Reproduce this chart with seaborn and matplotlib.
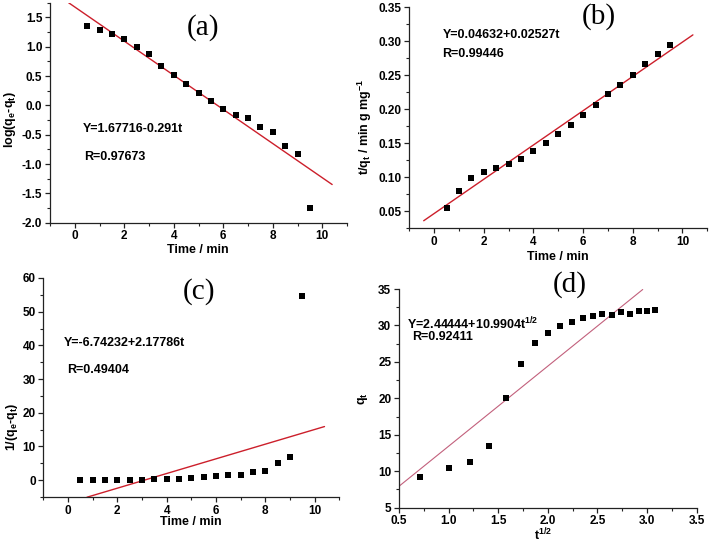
import numpy as np
import pandas as pd
import matplotlib
matplotlib.use("Agg")
import matplotlib.pyplot as plt
from matplotlib.ticker import MultipleLocator
import seaborn as sns

# ---------------- data ----------------
time_min = [0.5, 1.0, 1.5, 2.0, 2.5, 3.0, 3.5, 4.0, 4.5, 5.0,
            5.5, 6.0, 6.5, 7.0, 7.5, 8.0, 8.5, 9.0, 9.5]

log_qe_qt = [1.36, 1.28, 1.22, 1.13, 1.00, 0.87, 0.665, 0.51, 0.36, 0.216,
             0.08, -0.068, -0.16, -0.21, -0.364, -0.45, -0.70, -0.835, -1.744]

t_over_qt = [0.054, 0.080, 0.098, 0.108, 0.113, 0.120, 0.127, 0.138, 0.150, 0.164,
             0.177, 0.191, 0.206, 0.222, 0.236, 0.251, 0.266, 0.281, 0.295]

inv_qe_qt = [0.05, 0.05, 0.06, 0.07, 0.10, 0.13, 0.2, 0.3, 0.44, 0.6,
             0.83, 1.17, 1.45, 1.62, 2.3, 2.8, 5.0, 6.84, 54.8]

sqrt_t = [0.71, 1.00, 1.22, 1.41, 1.58, 1.73, 1.87, 2.00, 2.12, 2.24,
          2.35, 2.45, 2.55, 2.65, 2.74, 2.83, 2.92, 3.00, 3.08]

q_t = [9.2, 10.47, 11.25, 13.48, 20.05, 24.74, 27.53, 28.94, 29.94, 30.54,
       30.99, 31.36, 31.54, 31.5, 31.8, 31.58, 31.99, 32.03, 32.18]

# fitted lines: intercept, slope, x-range
fit_a = (1.67716, -0.291, [-0.25, 10.4])
fit_b = (0.04632, 0.02527, [-0.42, 10.42])
fit_c = (-6.74232, 2.17786, [0.77, 10.4])
fit_d = (2.44444, 10.9904, [0.5, 2.956])

eq_a = ["Y=1.67716-0.291t", "R=0.97673"]
eq_b = ["Y=0.04632+0.02527t", "R=0.99446"]
eq_c = ["Y=-6.74232+2.17786t", "R=0.49404"]
eq_d = ["Y=2.44444+10.9904t$^{1/2}$", "R=0.92411"]

# ---------------- style ----------------
sns.set_style("ticks")
plt.rcParams["font.family"] = ["Liberation Sans", "DejaVu Sans"]
plt.rcParams["font.weight"] = "bold"
plt.rcParams["text.color"] = "black"
plt.rcParams["axes.labelcolor"] = "black"
plt.rcParams["xtick.color"] = "black"
plt.rcParams["ytick.color"] = "black"
plt.rcParams["xtick.labelcolor"] = "black"
plt.rcParams["ytick.labelcolor"] = "black"
plt.rcParams["mathtext.fontset"] = "custom"
plt.rcParams["mathtext.rm"] = "Liberation Sans:bold"
plt.rcParams["mathtext.bf"] = "Liberation Sans:bold"
plt.rcParams["mathtext.it"] = "Liberation Sans:bold"
plt.rcParams["mathtext.default"] = "bf"

fig = plt.figure(figsize=(7.09, 5.5), dpi=100)

W, H = 709.0, 550.0
def rect(left, top, right, bottom):
    return [left / W, (H - bottom) / H, (right - left) / W, (bottom - top) / H]

ax_a = fig.add_axes(rect(50, 2.7, 347, 222.7))
ax_b = fig.add_axes(rect(409.3, 7.5, 707.3, 228))
ax_c = fig.add_axes(rect(43.3, 278, 339.3, 497))
ax_d = fig.add_axes(rect(399, 289, 696.7, 507.7))

red = "#cc1f2b"
pink = "#c2607c"

def panel(ax, x, y, fit, color, lw, xlim, ylim, xmaj, xmin_, ymaj, ymin_,
          xlabel, ylabel, ylab_xy, xlab_off, eqs, eq_pos, tag, tag_pos, fmt_y=None):
    df = pd.DataFrame({"x": x, "y": y})
    sns.scatterplot(data=df, x="x", y="y", ax=ax, marker="s", s=13,
                    color="black", linewidth=0, zorder=3)
    b0, b1, xr = fit
    xr = np.array(xr)
    fdf = pd.DataFrame({"x": xr, "y": b0 + b1 * xr})
    sns.lineplot(data=fdf, x="x", y="y", ax=ax, color=color, linewidth=lw, zorder=2)
    ax.set_xlim(*xlim)
    ax.set_ylim(*ylim)
    ax.xaxis.set_major_locator(MultipleLocator(xmaj))
    ax.xaxis.set_minor_locator(MultipleLocator(xmin_))
    ax.yaxis.set_major_locator(MultipleLocator(ymaj))
    ax.yaxis.set_minor_locator(MultipleLocator(ymin_))
    if fmt_y:
        ax.yaxis.set_major_formatter(plt.FormatStrFormatter(fmt_y))
    sns.despine(ax=ax)
    for s in ["left", "bottom"]:
        ax.spines[s].set_linewidth(0.9)
        ax.spines[s].set_color("#222222")
    ax.tick_params(which="major", direction="out", length=3.5, width=0.9,
                   labelsize=8.5, pad=2, color="#222222", labelcolor="black")
    ax.tick_params(which="minor", direction="out", length=2, width=0.8, color="#222222")
    ax.set_xlabel(xlabel, fontsize=9, fontweight="bold", va="center", color="black")
    ax.set_ylabel(ylabel, fontsize=9, fontweight="bold", va="center", color="black")
    ax.yaxis.set_label_coords(*ylab_xy)
    bbox = ax.get_position()
    hpx = bbox.height * H
    ax.xaxis.set_label_coords(xlab_off[0], -xlab_off[1] / hpx)
    for txt, (tx, ty) in zip(eqs, eq_pos):
        ax.text(tx, ty, txt, fontsize=9, fontweight="bold", ha="left", va="center",
                color="black")
    ax.text(tag_pos[0], tag_pos[1], tag, fontsize=21, family="Liberation Serif",
            fontweight="normal", ha="center", va="center", clip_on=False, color="black")

panel(ax_a, time_min, log_qe_qt, fit_a, red, 1.0, (-1, 11), (-2.0, 1.75),
      2, 1, 0.5, 0.25, "Time / min", "log(q$_e$-q$_t$)",
      ((9.5 - 50) / 297, 0.47), (0.498, 27.3),
      eq_a, [(0.31, -0.40), (0.38, -0.88)], "(a)", (5.2, 1.335), fmt_y="%.1f")

panel(ax_b, time_min, t_over_qt, fit_b, red, 1.0, (-1, 11), (0.025, 0.35),
      2, 1, 0.05, 0.025, "Time / min", "t/q$_t$ / min g mg$^{-1}$",
      ((365 - 409.3) / 298, 0.46), (0.499, 28.7),
      eq_b, [(0.34, 0.310), (0.34, 0.282)], "(b)", (6.62, 0.336), fmt_y="%.2f")

panel(ax_c, time_min, inv_qe_qt, fit_c, red, 1.0, (-1, 11), (-5, 60),
      2, 1, 10, 5, "Time / min", "1/(q$_e$-q$_t$)",
      ((11.7 - 43.3) / 296, 0.32), (0.50, 24.7),
      eq_c, [(-0.17, 40.6), (-0.04, 32.75)], "(c)", (5.3, 56.0))

panel(ax_d, sqrt_t, q_t, fit_d, pink, 0.8, (0.5, 3.5), (5, 35),
      0.5, 0.25, 0.5, 2.5, "t$^{1/2}$", "q$_t$",
      ((363.3 - 399) / 297.7, 0.5), (0.485, 27.3),
      eq_d, [(0.578, 30.21), (0.628, 28.38)], "(d)", (2.224, 35.68), fmt_y=None)
ax_d.yaxis.set_major_locator(MultipleLocator(5))
ax_d.xaxis.set_major_formatter(plt.FormatStrFormatter("%.1f"))

fig.canvas.draw()
for ax in [ax_a, ax_b, ax_c, ax_d]:
    for tick in ax.xaxis.get_major_ticks() + ax.yaxis.get_major_ticks():
        tick.label1.set_fontweight("bold")
        tick.label1.set_fontfamily(["Liberation Sans"])
        tick.label1.set_color("black")

fig.savefig("out.png", dpi=100)
